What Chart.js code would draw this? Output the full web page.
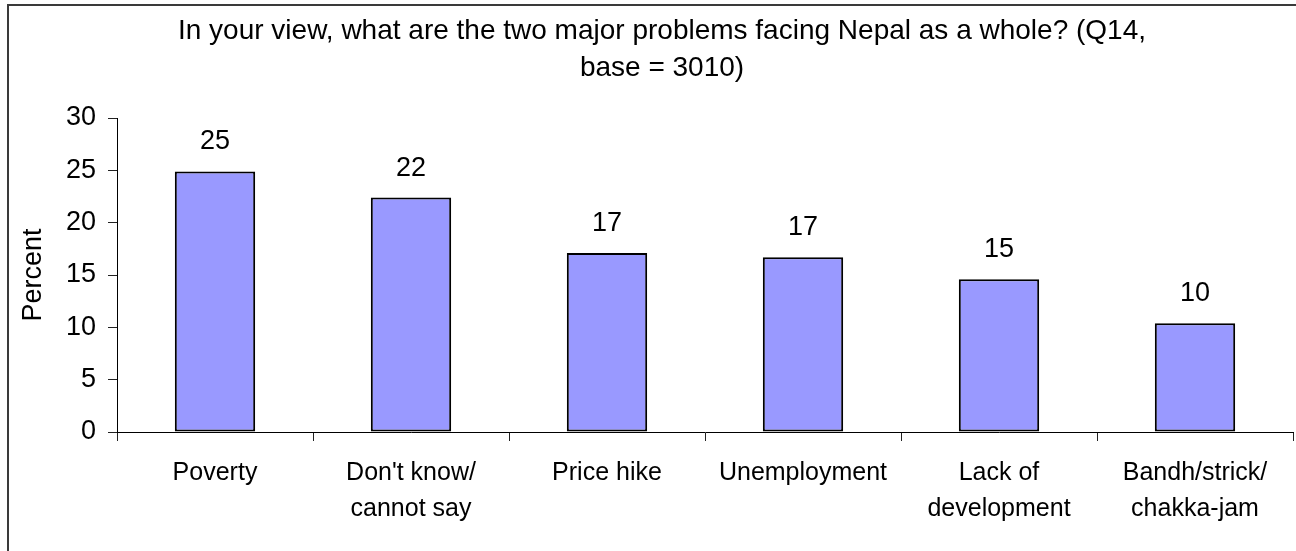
<!DOCTYPE html>
<html>
<head>
<meta charset="utf-8">
<title>Major problems facing Nepal</title>
<script src="https://cdn.jsdelivr.net/npm/chart.js@4.4.1/dist/chart.umd.min.js"></script>
<style>
  html, body { margin: 0; padding: 0; background: #ffffff; }
  #wrap { width: 1296px; height: 551px; position: relative; }
</style>
</head>
<body>
<div id="wrap"><canvas id="chart" width="1296" height="551"></canvas></div>
<script>
// Survey question shown as the chart heading (two lines)
const titleLines = [
  'In your view, what are the two major problems facing Nepal as a whole? (Q14,',
  'base = 3010)'
];

// Answer categories (multi-line labels as arrays)
const categories = [
  'Poverty',
  ["Don't know/", 'cannot say'],
  'Price hike',
  'Unemployment',
  ['Lack of', 'development'],
  ['Bandh/strick/', 'chakka-jam']
];

// Share of respondents, percent
const percentValues = [24.9, 22.4, 17.1, 16.7, 14.6, 10.4];

// Value axis
const yMin = 0;
const yMax = 30;
const yStep = 5;
const yAxisTitle = 'Percent';

const FONT = '"Liberation Sans", Arial, Helvetica, sans-serif';

// Thin frame along the top and left edges
const framePlugin = {
  id: 'frame',
  beforeDraw(chart) {
    const ctx = chart.ctx;
    ctx.save();
    ctx.strokeStyle = '#3a3a3a';
    ctx.lineWidth = 2;
    ctx.beginPath();
    ctx.moveTo(8, chart.height);
    ctx.lineTo(8, 5);
    ctx.lineTo(chart.width, 5);
    ctx.stroke();
    ctx.restore();
  }
};

// Two-line heading
const headingPlugin = {
  id: 'heading',
  afterDraw(chart) {
    const ctx = chart.ctx;
    ctx.save();
    ctx.fillStyle = '#000';
    ctx.font = '28px ' + FONT;
    ctx.textAlign = 'center';
    ctx.textBaseline = 'alphabetic';
    titleLines.forEach((line, i) => ctx.fillText(line, 662, 39 + i * 37));
    ctx.restore();
  }
};

// Rounded value written above each bar
const valueLabelPlugin = {
  id: 'valueLabels',
  afterDatasetsDraw(chart) {
    const ctx = chart.ctx;
    const meta = chart.getDatasetMeta(0);
    ctx.save();
    ctx.fillStyle = '#000';
    ctx.font = '27px ' + FONT;
    ctx.textAlign = 'center';
    ctx.textBaseline = 'alphabetic';
    meta.data.forEach((bar, i) => {
      ctx.fillText(String(Math.round(percentValues[i])), bar.x, bar.y - 22);
    });
    ctx.restore();
  }
};

new Chart(document.getElementById('chart'), {
  type: 'bar',
  data: {
    labels: categories,
    datasets: [{
      data: percentValues,
      backgroundColor: '#9999ff',
      borderColor: '#000000',
      borderWidth: 2,
      borderSkipped: false,
      categoryPercentage: 1,
      barPercentage: 0.41
    }]
  },
  options: {
    responsive: false,
    animation: false,
    devicePixelRatio: 1,
    layout: { padding: { top: 118, left: 8, right: 3, bottom: 0 } },
    plugins: {
      legend: { display: false },
      title: { display: false },
      tooltip: { enabled: false }
    },
    scales: {
      x: {
        offset: true,
        grid: {
          display: true,
          offset: true,
          drawOnChartArea: false,
          drawTicks: true,
          tickLength: 9,
          color: '#222'
        },
        border: { display: true, color: '#000', width: 1 },
        ticks: {
          color: '#000',
          padding: 14,
          maxRotation: 0,
          autoSkip: false,
          font: { family: FONT, size: 25, lineHeight: 1.44 }
        },
        afterFit(scale) { scale.height = 119; }
      },
      y: {
        min: yMin,
        max: yMax,
        grid: {
          display: true,
          drawOnChartArea: false,
          drawTicks: true,
          tickLength: 9,
          color: '#222'
        },
        border: { display: true, color: '#000', width: 1 },
        ticks: {
          stepSize: yStep,
          color: '#000',
          padding: 12,
          font: { family: FONT, size: 27 }
        },
        title: {
          display: true,
          text: yAxisTitle,
          color: '#000',
          padding: { top: 9, bottom: 0 },
          font: { family: FONT, size: 27, lineHeight: 1.2 }
        },
        afterFit(scale) { scale.width = 109; }
      }
    }
  },
  plugins: [framePlugin, headingPlugin, valueLabelPlugin]
});
</script>
</body>
</html>
